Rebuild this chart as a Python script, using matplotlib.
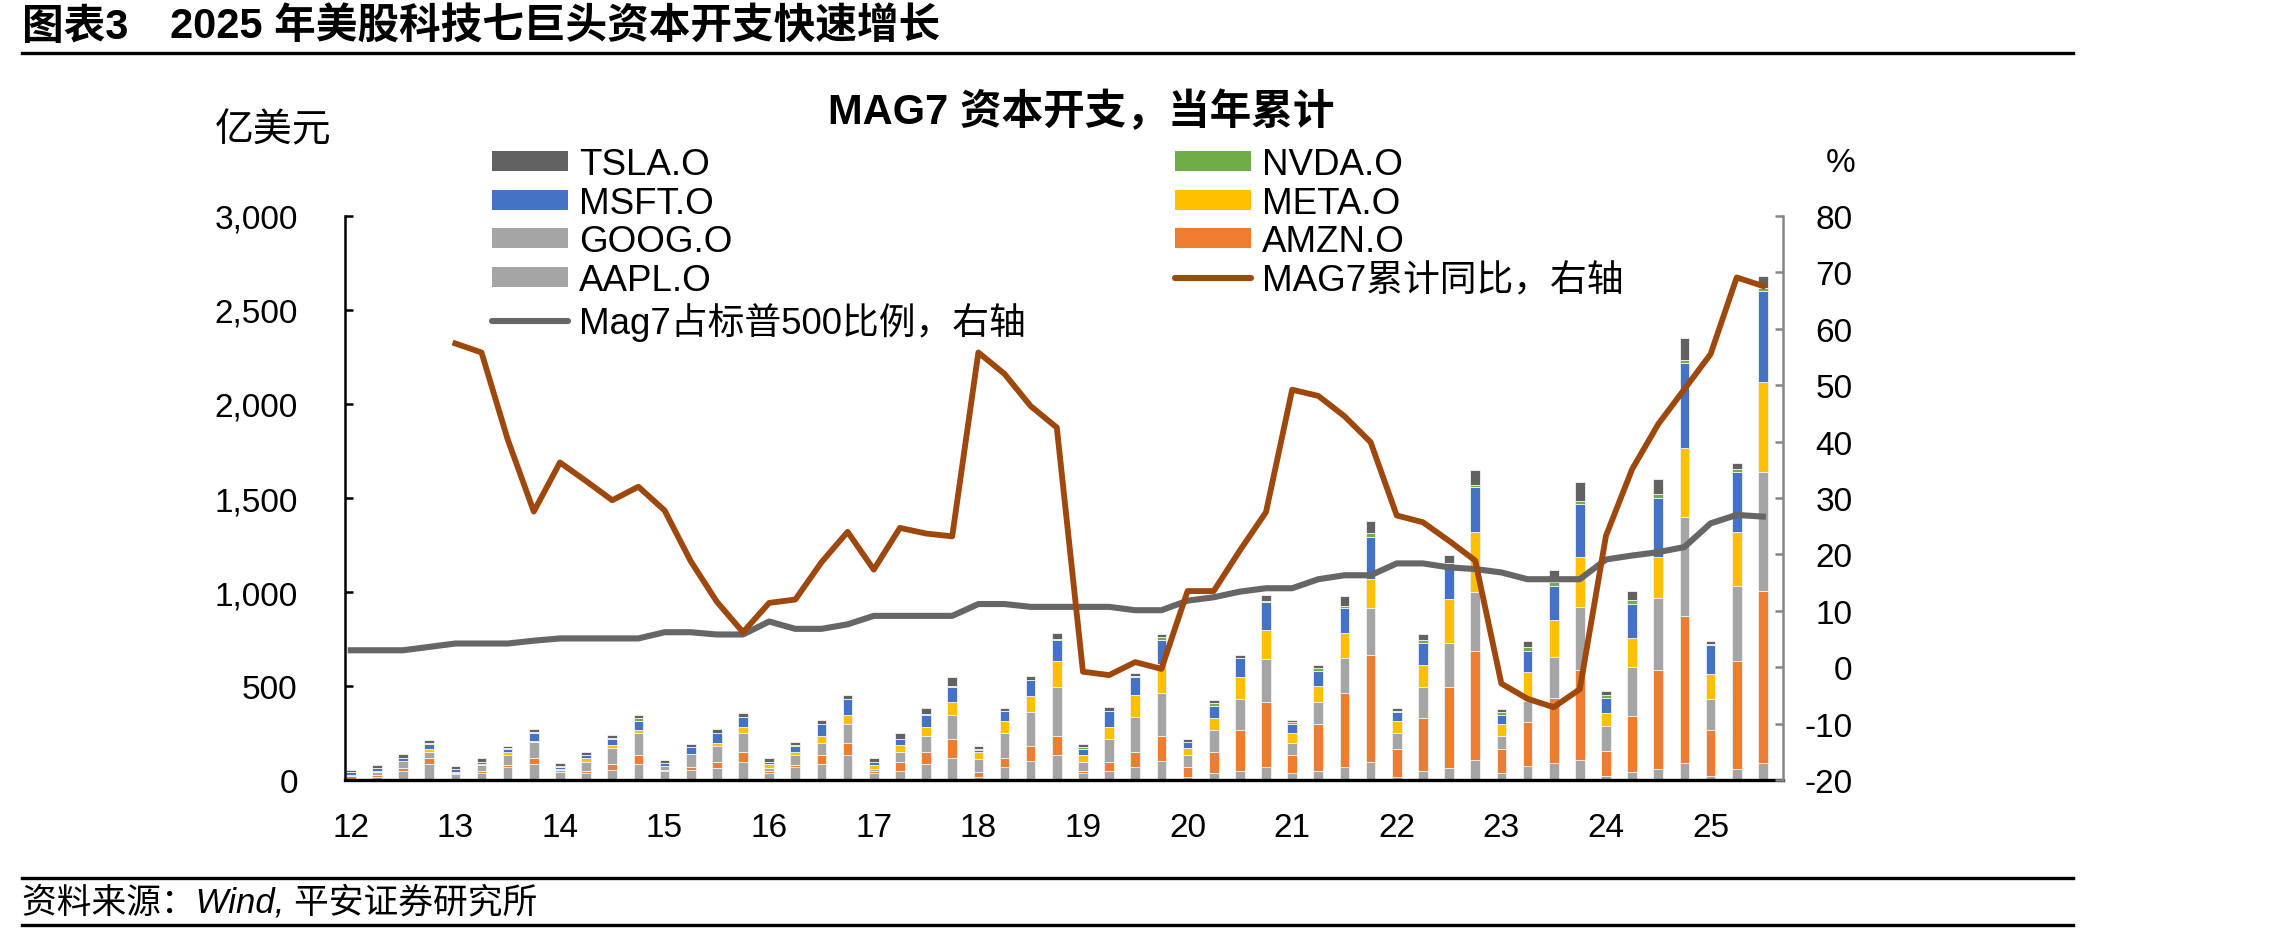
import matplotlib
matplotlib.use('Agg')
import matplotlib.pyplot as plt
from matplotlib.patches import Patch
from matplotlib.lines import Line2D
from matplotlib.ticker import FuncFormatter
import numpy as np

plt.rcParams['font.family'] = ['Liberation Sans', 'Noto Sans CJK SC']
plt.rcParams['axes.unicode_minus'] = False

# ---------------- data (亿美元, 当年累计) ----------------
year_labels = ['12', '13', '14', '15', '16', '17', '18', '19', '20', '21', '22', '23', '24', '25']
quarters = [f"20{y}Q{q}" for y in year_labels for q in range(1, 5)][:55]

aapl = [5, 15, 50, 83, 30, 35, 67, 83, 40, 35, 55, 83, 50, 55, 66, 98,
        35, 67, 83, 133, 35, 50, 83, 115, 15, 67, 99, 135, 35, 50, 67, 101,
        18, 35, 50, 67, 35, 50, 67, 98, 18, 50, 66, 106, 35, 73, 89, 106,
        20, 41, 59, 89, 20, 59, 89]
amzn = [15, 14, 16, 32, 5, 14, 14, 32, 5, 12, 32, 50, 5, 16, 32, 53,
        12, 14, 50, 66, 12, 48, 67, 101, 30, 50, 83, 100, 14, 48, 83, 133,
        50, 115, 216, 349, 98, 248, 397, 567, 148, 282, 431, 581, 131, 234, 349, 480,
        136, 298, 528, 782, 248, 576, 915]
goog = [5, 16, 35, 35, 8, 33, 51, 87, 10, 51, 83, 115, 20, 66, 85, 98,
        18, 51, 66, 99, 14, 51, 83, 131, 67, 131, 181, 262, 48, 119, 183, 230,
        66, 115, 165, 230, 66, 119, 183, 250, 82, 165, 234, 314, 67, 115, 218, 332,
        133, 264, 381, 530, 165, 399, 633]
meta = [2, 3, 2, 14, 2, 2, 16, 4, 2, 18, 18, 18, 2, 3, 16, 35,
        18, 18, 35, 50, 18, 35, 50, 69, 35, 67, 85, 135, 35, 67, 117, 152,
        35, 67, 117, 151, 50, 83, 133, 152, 66, 117, 232, 316, 67, 151, 197, 270,
        66, 152, 216, 367, 133, 284, 479]
msft = [14, 14, 14, 28, 12, 12, 18, 46, 14, 16, 32, 48, 12, 34, 50, 50,
        14, 32, 64, 83, 18, 32, 64, 80, 14, 50, 83, 115, 34, 82, 99, 131,
        32, 64, 99, 151, 51, 82, 133, 227, 50, 115, 190, 242, 48, 115, 181, 280,
        82, 183, 317, 449, 151, 319, 484]
nvda = [1, 2, 2, 3, 1, 2, 2, 2, 1, 2, 2, 14, 1, 2, 2, 2,
        1, 2, 2, 2, 1, 2, 2, 2, 2, 2, 2, 3, 10, 2, 2, 14,
        2, 16, 2, 2, 8, 12, 14, 18, 2, 16, 2, 10, 14, 18, 18, 18,
        16, 18, 18, 18, 8, 18, 16]
tsla = [12, 14, 18, 18, 15, 18, 14, 18, 16, 16, 16, 18, 16, 16, 18, 18,
        18, 18, 18, 18, 18, 34, 35, 50, 16, 18, 18, 32, 14, 18, 18, 18,
        16, 16, 16, 32, 10, 18, 50, 67, 18, 32, 44, 82, 18, 32, 67, 98,
        18, 50, 80, 115, 12, 30, 67]

# MAG7 累计同比 (%), starts 2013Q1
yoy = [57.4, 55.8, 40.4, 27.6, 36.3, 33.0, 29.6, 32.0, 27.8, 18.8, 11.6, 6.2,
       11.4, 12.0, 18.6, 24.0, 17.3, 24.7, 23.7, 23.2, 55.8, 52.0, 46.3, 42.5,
       -0.8, -1.4, 0.9, -0.3, 13.5, 13.5, 20.7, 27.5, 49.2, 48.1, 44.5, 39.9,
       26.9, 25.7, 22.4, 18.9, -2.9, -5.6, -7.1, -3.9, 23.3, 35.1, 43.1, 49.3,
       55.5, 69.1, 67.6]
# Mag7 占标普500比例 (%)
share = [3.0, 3.0, 3.0, 3.6, 4.2, 4.2, 4.2, 4.7, 5.1, 5.1, 5.1, 5.1, 6.2, 6.2, 5.8, 5.8,
         8.1, 6.8, 6.8, 7.6, 9.1, 9.1, 9.1, 9.1, 11.2, 11.2, 10.7, 10.7, 10.7, 10.7, 10.1, 10.1,
         11.8, 12.4, 13.4, 14.0, 14.0, 15.6, 16.3, 16.3, 18.4, 18.4, 17.7, 17.4, 16.8, 15.6, 15.6, 15.6,
         19.1, 19.8, 20.4, 21.3, 25.5, 27.0, 26.7]

series_names = ['AAPL.O', 'AMZN.O', 'GOOG.O', 'META.O', 'MSFT.O', 'NVDA.O', 'TSLA.O']
series_vals = [aapl, amzn, goog, meta, msft, nvda, tsla]
series_cols = ['#A5A5A5', '#ED7D31', '#A5A5A5', '#FFC000', '#4472C4', '#70AD47', '#626262']
col_yoy = '#9E480E'
col_share = '#666666'

# ---------------- figure ----------------
W, H = 2281, 937
fig = plt.figure(figsize=(W / 100, H / 100), dpi=100)

def fx(px):
    return px / W

def fy(py):
    return 1 - py / H

ax = fig.add_axes([fx(345), fy(781), fx(1783) - fx(345), fy(217) - fy(781)])
x = np.arange(len(quarters))
bottom = np.zeros(len(quarters))
for name, vals, col in zip(series_names, series_vals, series_cols):
    v = np.array(vals, dtype=float)
    ax.bar(x, v, bottom=bottom, width=0.37, color=col, edgecolor='#F2F2F2',
           linewidth=0.6, zorder=2)
    bottom += v

ax.set_xlim(-0.22, 54.77)
ax.set_ylim(0, 3000)
ax.set_yticks(np.arange(0, 3001, 500))
ax.yaxis.set_major_formatter(FuncFormatter(lambda v, p: f"{v:,.0f}"))
q1_pos = x[::4]
ax.set_xticks(q1_pos)
ax.set_xticklabels(year_labels)
ax.tick_params(axis='y', direction='in', length=6, width=1.8, labelsize=24, pad=34, colors='black')
ax.tick_params(axis='x', direction='in', length=7, width=2.0, labelsize=24, pad=23)
for s in ['top', 'right']:
    ax.spines[s].set_visible(False)
ax.spines['left'].set_linewidth(1.8)
ax.spines['bottom'].set_linewidth(2.4)
ax.spines['bottom'].set_zorder(5)

ax2 = ax.twinx()
ax2.set_ylim(-20, 80)
ax2.set_yticks(np.arange(-20, 81, 10))
ax2.plot(x, share, color=col_share, lw=4.4, solid_joinstyle='round', zorder=3)
ax2.plot(x[4:], yoy, color=col_yoy, lw=4.2, solid_joinstyle='round', zorder=4)
for s in ['top', 'left', 'bottom']:
    ax2.spines[s].set_visible(False)
ax2.spines['right'].set_color('#868686')
ax2.spines['right'].set_linewidth(1.8)
ax2.tick_params(axis='y', direction='in', length=6, width=1.8, colors='#868686',
                labelcolor='black', labelsize=24, pad=50)
for lab in ax2.get_yticklabels():
    lab.set_horizontalalignment('right')

# ---------------- legends ----------------
leg_kw = dict(frameon=False, fontsize=26.5, handlelength=2.07, handleheight=0.46,
              handletextpad=0.3, labelspacing=0.1, borderpad=0, borderaxespad=0,
              loc='upper left')
h1 = [Patch(facecolor=series_cols[6], edgecolor='none'),
      Patch(facecolor=series_cols[4], edgecolor='none'),
      Patch(facecolor=series_cols[2], edgecolor='none'),
      Patch(facecolor=series_cols[0], edgecolor='none'),
      Line2D([], [], color=col_share, lw=4.4, solid_capstyle='round')]
l1 = ['TSLA.O', 'MSFT.O', 'GOOG.O', 'AAPL.O', 'Mag7占标普500比例，右轴']
h2 = [Patch(facecolor=series_cols[5], edgecolor='none'),
      Patch(facecolor=series_cols[3], edgecolor='none'),
      Patch(facecolor=series_cols[1], edgecolor='none'),
      Line2D([], [], color=col_yoy, lw=4.4, solid_capstyle='round')]
l2 = ['NVDA.O', 'META.O', 'AMZN.O', 'MAG7累计同比，右轴']
leg1 = fig.legend(h1, l1, bbox_to_anchor=(fx(492), fy(148)), **leg_kw)
leg2 = fig.legend(h2, l2, bbox_to_anchor=(fx(1175), fy(148)), **leg_kw)

# ---------------- texts ----------------
fig.text(fx(22), fy(28), '图表3', fontsize=30, fontweight='bold', va='center', ha='left')
fig.text(fx(170), fy(28), '2025 年美股科技七巨头资本开支快速增长', fontsize=30,
         fontweight='bold', va='center', ha='left')
fig.add_artist(Line2D([fx(22), fx(2073)], [fy(54), fy(54)], lw=2.4, color='black'))

fig.text(fx(1081), fy(112), 'MAG7 资本开支，当年累计', fontsize=30, fontweight='bold',
         ha='center', va='center')
fig.text(fx(215), fy(131), '亿美元', fontsize=28, ha='left', va='center')
fig.text(fx(1826), fy(163), '%', fontsize=24, ha='left', va='center')

fig.add_artist(Line2D([fx(22), fx(2073)], [fy(879), fy(879)], lw=2.4, color='black'))
fig.text(fx(22), fy(903), '资料来源：Wind, 平安证券研究所', fontsize=25, style='italic',
         ha='left', va='center')
fig.add_artist(Line2D([fx(22), fx(2073)], [fy(926), fy(926)], lw=2.4, color='black'))

fig.savefig('out.png', dpi=100)
